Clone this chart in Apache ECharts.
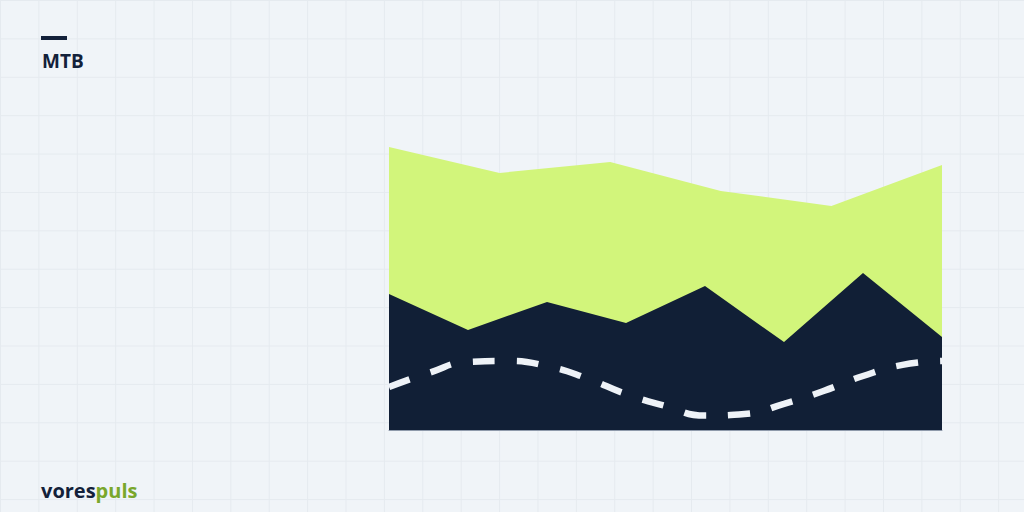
<!DOCTYPE html>
<html>
<head>
<meta charset="utf-8">
<script src="https://cdn.jsdelivr.net/npm/echarts@6/dist/echarts.min.js"></script>
<style>
html,body{margin:0;padding:0;}
body{
  width:1024px;height:512px;overflow:hidden;
  background-color:#f0f4f8;
  background-image:
    linear-gradient(to right, #e5eaef 1px, transparent 1px),
    linear-gradient(to bottom, #e5eaef 1px, transparent 1px);
  background-size:38.4px 38.4px;
}
#chart{width:1024px;height:512px;}
</style>
</head>
<body>
<div id="chart"></div>
<script>
// x positions run on a 0..35 scale (green: 6 points, navy: 8 points, dashed: 15 points)
const greenX = [0, 7, 14, 21, 28, 35];
const greenValues = [94.3, 85.7, 89.3, 79.7, 74.7, 88.3];

const navyX = [0, 5, 10, 15, 20, 25, 30, 35];
const navyValues = [45.3, 33.3, 42.7, 35.7, 48, 29.3, 52.3, 31];

const dashX = [0, 2.5, 5, 7.5, 10, 12.5, 15, 17.5, 20, 22.5, 25, 27.5, 30, 32.5, 35];
const dashValues = [14.3, 19, 22.7, 23, 21.3, 17.3, 12, 8, 4.8, 5.3, 8.7, 13, 18, 21.7, 23];

const titleText = 'MTB';
const logoDark = 'vores';
const logoGreen = 'puls';

function pairs(xs, ys){ return xs.map((x,i)=>[x, ys[i]]); }

const chart = echarts.init(document.getElementById('chart'), null, {renderer:'svg'});
chart.setOption({
  backgroundColor:'transparent',
  animation:false,
  grid:{left:389, right:82, top:130, bottom:82},
  xAxis:{
    type:'value', min:0, max:35,
    axisLine:{show:true, onZero:false, lineStyle:{color:'#8f9aab', width:1}},
    axisTick:{show:false}, axisLabel:{show:false}, splitLine:{show:false}
  },
  yAxis:{
    type:'value', min:0, max:100,
    axisLine:{show:false}, axisTick:{show:false}, axisLabel:{show:false}, splitLine:{show:false}
  },
  series:[
    {
      type:'line', data:pairs(greenX, greenValues), symbol:'none',
      lineStyle:{width:0}, areaStyle:{color:'#d2f57b', opacity:1}, z:1
    },
    {
      type:'line', data:pairs(navyX, navyValues), symbol:'none',
      lineStyle:{width:0}, areaStyle:{color:'#111f36', opacity:1}, z:2
    },
    {
      type:'line', data:pairs(dashX, dashValues), symbol:'none', smooth:0.5,
      lineStyle:{width:6.5, color:'#eef2f7', type:[22,22], cap:'butt'}, z:3
    }
  ],
  graphic:[
    {type:'rect', shape:{x:41, y:36, width:26, height:4}, style:{fill:'#13213a'}},
    {type:'text', x:42, y:61, style:{text:titleText, font:'bold 19px "Open Sans"', fill:'#13213a', verticalAlign:'middle'}},
    {type:'text', x:41, y:490, style:{
      text:'{a|'+logoDark+'}{b|'+logoGreen+'}', verticalAlign:'middle',
      rich:{
        a:{font:'bold 20px "Open Sans"', fill:'#13213a', color:'#13213a'},
        b:{font:'bold 20px "Open Sans"', fill:'#79a72c', color:'#79a72c'}
      }
    }}
  ]
});
</script>
</body>
</html>
